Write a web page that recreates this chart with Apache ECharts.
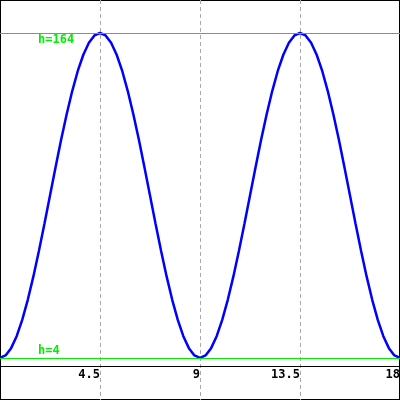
<!DOCTYPE html>
<html><head><meta charset="utf-8">
<script src="https://cdn.jsdelivr.net/npm/echarts@6/dist/echarts.min.js"></script>
<style>html,body{margin:0;padding:0;background:#fff}#c{width:400px;height:400px}</style>
</head><body><div id="c"></div>
<script>
var tValues = [0,0.25,0.5,0.75,1,1.25,1.5,1.75,2,2.25,2.5,2.75,3,3.25,3.5,3.75,4,4.25,4.5,4.75,5,5.25,5.5,5.75,6,6.25,6.5,6.75,7,7.25,7.5,7.75,8,8.25,8.5,8.75,9,9.25,9.5,9.75,10,10.25,10.5,10.75,11,11.25,11.5,11.75,12,12.25,12.5,12.75,13,13.25,13.5,13.75,14,14.25,14.5,14.75,15,15.25,15.5,15.75,16,16.25,16.5,16.75,17,17.25,17.5,17.75,18];
var hValues = [4,5.2,8.8,14.7,22.7,32.6,44,56.6,70.1,84,97.9,111.4,124,135.4,145.3,153.3,159.2,162.8,164,162.8,159.2,153.3,145.3,135.4,124,111.4,97.9,84,70.1,56.6,44,32.6,22.7,14.7,8.8,5.2,4,5.2,8.8,14.7,22.7,32.6,44,56.6,70.1,84,97.9,111.4,124,135.4,145.3,153.3,159.2,162.8,164,162.8,159.2,153.3,145.3,135.4,124,111.4,97.9,84,70.1,56.6,44,32.6,22.7,14.7,8.8,5.2,4];
var tickValues = [4.5, 9, 13.5, 18];
var tickLabels = ['4.5','9','13.5','18'];
var refLevels = [164, 4];
var refLabels = ['h=164', 'h=4'];

var pts = tValues.map(function(t,i){return [t, hValues[i]];});
var chart = echarts.init(document.getElementById('c'));
var lblFont = {color:'#00ee00',fontFamily:'DejaVu Sans Mono',fontWeight:'bold',fontSize:12};
chart.setOption({
  animation:false,
  backgroundColor:'#fff',
  grid:{left:0,right:0,top:0,bottom:0,outerBoundsMode:'none',containLabel:false,show:true,borderColor:'#000',borderWidth:2,backgroundColor:'transparent'},
  xAxis:{type:'value',min:0,max:18,interval:4.5,position:'bottom',offset:-34,
    axisLine:{show:true,onZero:false,lineStyle:{color:'#000',width:1}},
    axisTick:{show:false},
    splitLine:{show:true,showMinLine:false,lineStyle:{color:'#aaa',type:[4,3],width:1}},
    axisLabel:{show:true,align:'right',margin:3,color:'#000',fontFamily:'DejaVu Sans Mono',fontWeight:'bold',fontSize:12,
      formatter:function(v){var i=tickValues.indexOf(v);return i>=0?tickLabels[i]:'';}}
  },
  yAxis:{type:'value',min:-16.74,max:180.25,show:false,splitLine:{show:false}},
  series:[{type:'line',data:pts,showSymbol:false,smooth:false,
    lineStyle:{color:'#0000ff',width:2.5},itemStyle:{color:'#0000ff'},
    markLine:{silent:true,symbol:['none','none'],
      lineStyle:{color:'#00ee00',type:'solid',width:1},
      data:[
        {yAxis:refLevels[0],label:Object.assign({formatter:refLabels[0],position:'insideStartBottom',distance:[38,1]},lblFont)},
        {yAxis:refLevels[1],label:Object.assign({formatter:refLabels[1],position:'insideStartTop',distance:[38,1]},lblFont)}
      ]}
  }]
});
</script></body></html>
